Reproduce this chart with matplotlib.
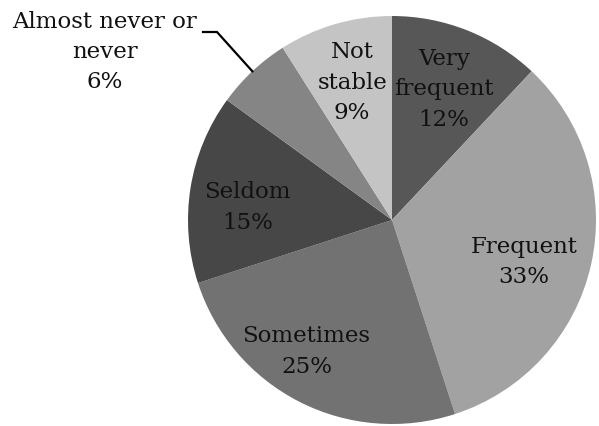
import math
import matplotlib
matplotlib.use('Agg')
import matplotlib.pyplot as plt

# данные с картинки, по часовой стрелке от верха
categories = ['Very\nfrequent', 'Frequent', 'Sometimes', 'Seldom',
              'Almost never or\nnever', 'Not\nstable']
shares = [12, 33, 25, 15, 6, 9]
colors = ['#575757', '#a2a2a2', '#727272', '#474747', '#858585', '#c4c4c4']

# где стоят подписи: (сдвиг угла, доля радиуса)
label_place = [(0, 0.69), (-5, 0.68), (-6, 0.77), (4, 0.71), None, (0, 0.70)]

W, H = 599, 426
cx, cy, rad = 392, 206, 204

fig = plt.figure(figsize=(W / 100, H / 100), dpi=100)
ax = fig.add_axes([0, 0, 1, 1])

wedges, _ = ax.pie(shares, center=(cx, cy), radius=rad, startangle=90,
                   counterclock=False, colors=colors,
                   wedgeprops={'linewidth': 0})
ax.set_xlim(0, W)
ax.set_ylim(0, H)
ax.set_aspect('equal')
ax.axis('off')

font = dict(family='DejaVu Serif', fontsize=16.5, ha='center', va='center',
            color='#111111', linespacing=1.5)

for w, name, val, place in zip(wedges, categories, shares, label_place):
    mid = math.radians((w.theta1 + w.theta2) / 2)
    text = '%s\n%d%%' % (name, val)
    if place is None:
        # выноска для маленького сектора
        ex, ey = cx + rad * math.cos(mid), cy + rad * math.sin(mid)
        ax.plot([ex, 217, 203], [ey, 394, 394], color='black', lw=1.6)
        ax.text(105, 374, text, **font)
        continue
    a = mid + math.radians(place[0])
    r = rad * place[1]
    ax.text(cx + r * math.cos(a), cy + r * math.sin(a), text, **font)

fig.savefig('out.png', dpi=100)
